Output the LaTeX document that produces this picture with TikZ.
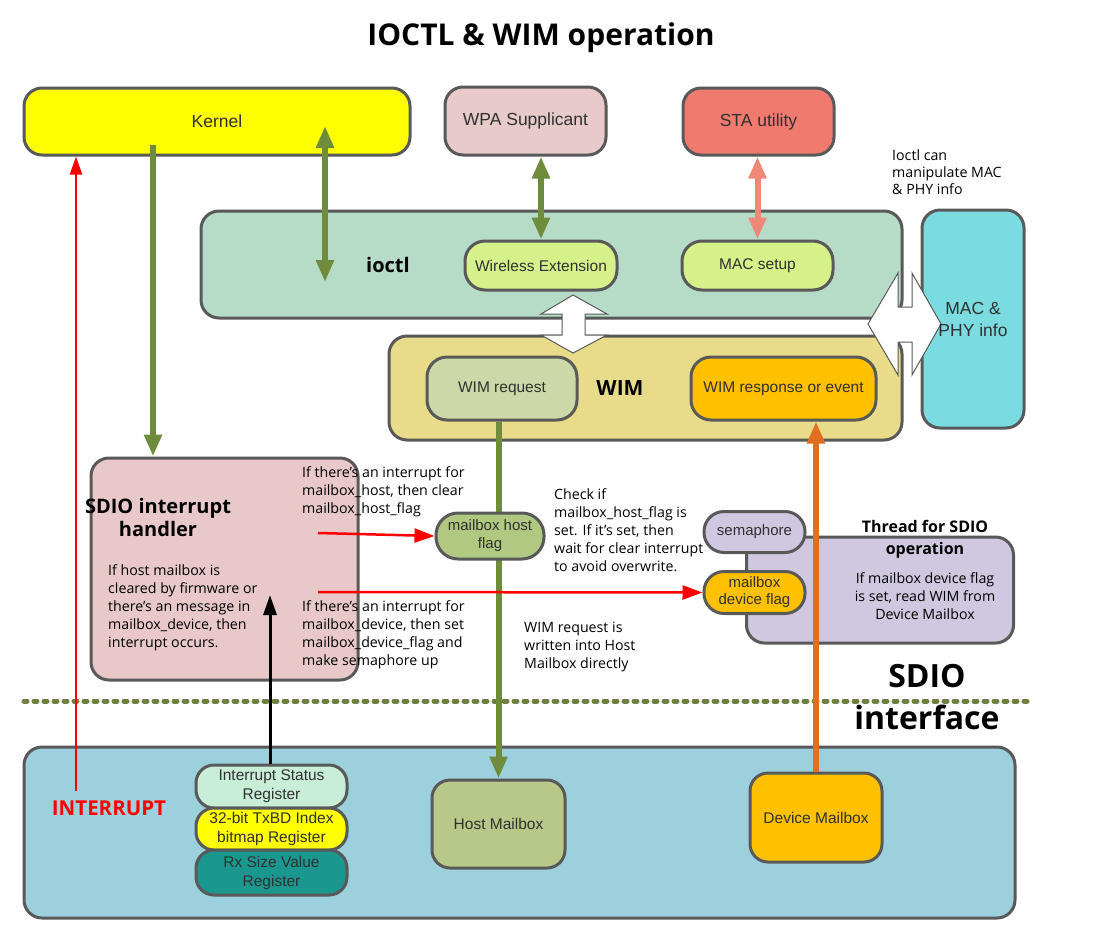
\documentclass[tikz,border=0pt]{standalone}
\usepackage{fontspec}
\setmainfont{Open Sans}
\newfontfamily\boxfont{Liberation Sans}
\usetikzlibrary{arrows.meta}
\definecolor{bordc}{HTML}{595959}
\definecolor{kernelc}{HTML}{FFFF00}
\definecolor{wpac}{HTML}{E8CACA}
\definecolor{stac}{HTML}{F07A6E}
\definecolor{ioctlc}{HTML}{B6DCC8}
\definecolor{wextc}{HTML}{D6F08A}
\definecolor{macphyc}{HTML}{7ADCE0}
\definecolor{wimc}{HTML}{E8DC8A}
\definecolor{wimreqc}{HTML}{CCD8A8}
\definecolor{orangeyc}{HTML}{FFC000}
\definecolor{sdioc}{HTML}{E8C8C8}
\definecolor{mhfc}{HTML}{B0C880}
\definecolor{semac}{HTML}{D0C8E0}
\definecolor{bottomc}{HTML}{9CD0DC}
\definecolor{isrc}{HTML}{C8EED8}
\definecolor{rxsc}{HTML}{1A9890}
\definecolor{hostmbc}{HTML}{B8C888}
\definecolor{greenc}{HTML}{6E8C3C}
\definecolor{orangec}{HTML}{E07020}
\definecolor{salmonc}{HTML}{F08878}
\definecolor{dotc}{HTML}{6E8040}
\definecolor{boxtxt}{HTML}{303030}
\tikzset{
  box/.style={draw=bordc, line width=3pt, rounded corners=18pt, inner sep=0pt,
    font=\boxfont\fontsize{17.5}{20}\selectfont, align=center, text=boxtxt},
  pill/.style={draw=bordc, line width=3pt, rounded corners=20pt, inner sep=0pt,
    font=\boxfont\fontsize{15.5}{19}\selectfont, align=center, text=boxtxt},
  note/.style={anchor=north west, align=left, inner sep=0pt,
    font=\fontsize{14.2}{18}\selectfont},
  garrow/.style={draw=greenc, line width=6pt, -{Triangle[length=22pt,width=17pt]}},
  gdarrow/.style={draw=greenc, line width=6pt, {Triangle[length=22pt,width=17pt]}-{Triangle[length=22pt,width=17pt]}},
  redarrow/.style={draw=red, line width=2.5pt, -{Triangle[length=20pt,width=14pt]}},
}
\begin{document}
\begin{tikzpicture}[x=1pt,y=-1pt]
\useasboundingbox (0,0) rectangle (1096,930);
% title
\node[font=\bfseries\fontsize{30}{34}\selectfont] (title) at (541,38) {IOCTL \& WIM operation};
% top boxes
\node[box, fill=kernelc, minimum width=386, minimum height=67] (kernel) at (217,121.5) {Kernel};
\node[box, fill=wpac, minimum width=161, minimum height=68] (wpa) at (525.5,121) {WPA Supplicant};
\node[box, fill=stac, minimum width=151, minimum height=67] (sta) at (758.5,121.5) {STA utility};
\node[note, font=\fontsize{14.2}{17}\selectfont] (ioctlnote) at (892,150) {Ioctl can\\manipulate MAC\\\& PHY info};
% ioctl
\node[box, fill=ioctlc, minimum width=701, minimum height=107] (ioctl) at (551.5,264.5) {};
\node[font=\bfseries\fontsize{20}{22}\selectfont] (ioctllbl) at (388,265) {ioctl};
\node[pill, fill=wextc, minimum width=152, minimum height=49] (wext) at (541,265.5) {Wireless Extension};
\node[pill, fill=wextc, minimum width=151, minimum height=49] (macset) at (757.5,265.5) {MAC setup};
% MAC & PHY
\node[box, fill=macphyc, minimum width=102, minimum height=218] (macphy) at (973,319) {};
% WIM
\node[box, fill=wimc, minimum width=513, minimum height=104] (wim) at (645.5,388) {};
\node[font=\bfseries\fontsize{21}{22}\selectfont] (wimlbl) at (620,388) {WIM};
\node[pill, fill=wimreqc, minimum width=150, minimum height=63] (wimreq) at (502,388.5) {WIM request};
\node[pill, fill=orangeyc, minimum width=185, minimum height=63] (wimresp) at (783.5,388.5) {WIM response or event};
% white double arrows
\path[draw=bordc, fill=white, line width=1pt]
  (573,295) -- (607,314) -- (585,314) -- (585,335) -- (607,335) -- (573,353)
  -- (541,335) -- (562,335) -- (562,314) -- (541,314) -- cycle;
\path[draw=bordc, fill=white, line width=1pt]
  (868,324) -- (898,273) -- (898,307) -- (912,307) -- (912,273) -- (941,324)
  -- (912,375) -- (912,342) -- (898,342) -- (898,375) -- cycle;
\node[font=\boxfont\fontsize{17.5}{22}\selectfont, align=center, text=boxtxt] (macphylbl) at (973,319) {MAC \&\\PHY info};
% SDIO interrupt handler
\node[box, fill=sdioc, minimum width=267, minimum height=222] (sdio) at (224.5,569) {};
\node[font=\bfseries\fontsize{20}{23}\selectfont, align=center, inner sep=0pt] (sdiolbl) at (158,517) {SDIO interrupt\\handler};
\node[note] (sdionote) at (108,564) {If host mailbox is\\cleared by firmware or\\there’s an message in\\mailbox\_device, then\\interrupt occurs.};
% thread box
\node[box, fill=semac, minimum width=267, minimum height=106] (thread) at (880,590) {};
\node[font=\bfseries\fontsize{16}{22}\selectfont, align=center, inner sep=0pt] (threadlbl) at (925,539) {Thread for SDIO\\operation};
\node[font=\fontsize{14.2}{18}\selectfont, align=center, inner sep=0pt] (threadnote) at (925,596) {If mailbox device flag\\is set, read WIM from\\Device Mailbox};
% bottom box
\node[box, fill=bottomc, minimum width=991, minimum height=171] (bottom) at (519.5,832.5) {};
\node[pill, fill=isrc, minimum width=151, minimum height=43, rounded corners=18pt] (isr) at (271.5,786.5) {Interrupt Status\\Register};
\node[pill, fill=kernelc, minimum width=151, minimum height=42, rounded corners=18pt] (txbd) at (271.5,829) {32-bit TxBD Index\\bitmap Register};
\node[pill, fill=rxsc, minimum width=151, minimum height=45, rounded corners=18pt] (rxs) at (271.5,872.5) {Rx Size Value\\Register};
\node[pill, fill=hostmbc, minimum width=133, minimum height=88, rounded corners=18pt] (hostmb) at (498.5,824) {Host Mailbox};
\node[pill, fill=orangeyc, minimum width=132, minimum height=89, rounded corners=18pt] (devmb) at (816,817.5) {Device Mailbox};
\node[font=\bfseries\fontsize{20.5}{22}\selectfont, text=red] (intlbl) at (109,808) {INTERRUPT};
% separator
\coordinate (sepL) at (24,701);
\coordinate (sepR) at (1030,701);
\draw[dotc, line width=5pt, line cap=round, dash pattern=on 3pt off 7pt] (sepL) -- (sepR);
\node[font=\bfseries\fontsize{32}{42}\selectfont, align=center, inner sep=0pt] (sdioif) at (927,697) {SDIO\\interface};
% connectors
\coordinate (kdownS) at (153,145);
\draw[garrow] (kdownS) -- (kdownS |- sdio.north);
\coordinate (kdA) at (325,126);
\coordinate (kdB) at (325,282);
\draw[gdarrow] (kdA) -- (kdB);
\draw[gdarrow] (wpa.south -| wext.north) -- (wext.north);
\draw[draw=salmonc, line width=6pt, {Triangle[length=22pt,width=17pt]}-{Triangle[length=22pt,width=17pt]}] (sta.south -| macset.north) -- (macset.north);
\coordinate (intS) at (76,791);
\draw[draw=red, line width=2.5pt, -{Triangle[length=18pt,width=12pt]}] (intS) -- (intS |- kernel.south);
\coordinate (blkE) at (270,595);
\draw[draw=black, line width=3pt, -{Triangle[length=20pt,width=13pt]}] (blkE |- isr.north) -- (blkE);
\node[note] (note1) at (302,466) {If there’s an interrupt for\\mailbox\_host, then clear\\mailbox\_host\_flag};
\node[note] (note3) at (302,600) {If there’s an interrupt for\\mailbox\_device, then set\\mailbox\_device\_flag and\\make semaphore up};
\node[note] (note2) at (554,488) {Check if\\mailbox\_host\_flag is\\set. If it’s set, then\\wait for clear interrupt\\to avoid overwrite.};
\node[note] (note4) at (524,622) {WIM request is\\written into Host\\Mailbox directly};
\draw[garrow] (hostmb.north |- wimreq.south) -- (hostmb.north);
\draw[draw=orangec, line width=6pt, -{Triangle[length=22pt,width=17pt]}] (devmb.north) -- (devmb.north |- wimresp.south);
\node[pill, fill=mhfc, minimum width=108, minimum height=46, rounded corners=22pt, font=\boxfont\fontsize{15}{18}\selectfont] (mhf) at (490,536) {mailbox host\\flag};
\node[pill, fill=semac, minimum width=101, minimum height=41, font=\boxfont\fontsize{15}{17}\selectfont] (sema) at (754.5,532) {semaphore};
\node[pill, fill=orangeyc, minimum width=101, minimum height=42, font=\boxfont\fontsize{15}{17}\selectfont] (mdf) at (754.5,592.5) {mailbox\\device flag};
\coordinate (r1S) at (318,533);
\draw[redarrow] (r1S) -- (mhf.west);
\coordinate (r2S) at (318,592);
\draw[redarrow] (r2S) -- (mdf.west);
\end{tikzpicture}
\end{document}
